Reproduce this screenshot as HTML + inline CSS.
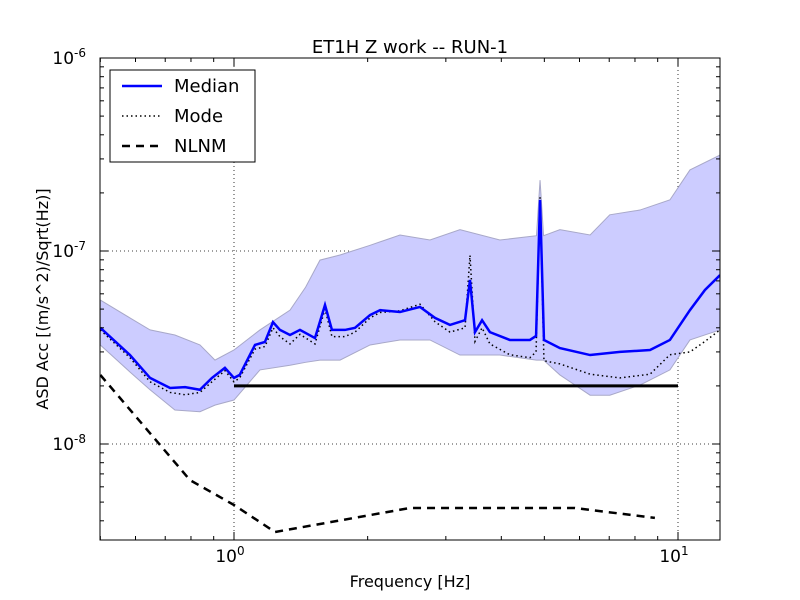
<!DOCTYPE html>
<html><head><meta charset="utf-8"><style>
body{margin:0;background:#fff;}
svg{display:block;font-family:"DejaVu Sans","Liberation Sans",sans-serif;}
</style></head><body>
<svg id="chart" width="800" height="600" viewBox="0 0 800 600">
<rect x="0" y="0" width="800" height="600" fill="#fff"/>
<text x="410" y="53" text-anchor="middle" font-size="18">ET1H Z work -- RUN-1</text>
<text x="410" y="587" text-anchor="middle" font-size="16">Frequency [Hz]</text>
<text transform="translate(48,299) rotate(-90)" text-anchor="middle" font-size="16">ASD Acc [(m/s^2)/Sqrt(Hz)]</text>
<g id="plot"></g>
<g id="axes"></g>
<g>
<rect x="110" y="70" width="145" height="92" fill="#fff" stroke="#000" stroke-width="1"/>
<line x1="122" y1="86" x2="162" y2="86" stroke="#0000ff" stroke-width="2.5"/>
<text x="174" y="92" font-size="18">Median</text>
<line x1="122" y1="116" x2="162" y2="116" stroke="#000" stroke-width="1.5" stroke-dasharray="1.5,3"/>
<text x="174" y="122" font-size="18">Mode</text>
<line x1="122" y1="146" x2="162" y2="146" stroke="#000" stroke-width="2.5" stroke-dasharray="8,6"/>
<text x="174" y="152" font-size="18">NLNM</text>
</g>
</svg>
<script>
const medFreq=[0.5,0.583,0.647,0.718,0.776,0.838,0.892,0.954,1.0,1.03,1.115,1.174,1.224,1.269,1.337,1.408,1.522,1.603,1.662,1.778,1.873,2.025,2.133,2.365,2.624,2.836,3.065,3.314,3.40,3.49,3.62,3.77,4.18,4.64,4.79,4.89,4.99,5.42,6.34,7.40,8.65,9.59,10.64,11.5,12.43];
const medVal=[4.0e-8,2.89e-8,2.20e-8,1.95e-8,1.97e-8,1.91e-8,2.20e-8,2.48e-8,2.20e-8,2.28e-8,3.26e-8,3.38e-8,4.28e-8,3.90e-8,3.67e-8,3.90e-8,3.54e-8,5.25e-8,3.90e-8,3.90e-8,4.0e-8,4.66e-8,4.94e-8,4.83e-8,5.13e-8,4.50e-8,4.14e-8,4.38e-8,7.08e-8,3.80e-8,4.38e-8,3.80e-8,3.46e-8,3.46e-8,3.63e-8,1.84e-7,3.46e-8,3.14e-8,2.89e-8,3.0e-8,3.07e-8,3.46e-8,4.94e-8,6.28e-8,7.5e-8];
const modeVal=[3.9e-8,2.8e-8,2.1e-8,1.85e-8,1.8e-8,1.85e-8,2.1e-8,2.4e-8,2.1e-8,2.2e-8,3.1e-8,3.2e-8,4.0e-8,3.6e-8,3.3e-8,3.7e-8,3.3e-8,5.0e-8,3.6e-8,3.6e-8,3.8e-8,4.5e-8,4.8e-8,4.9e-8,5.3e-8,4.3e-8,3.8e-8,4.0e-8,9.5e-8,3.4e-8,4.0e-8,3.3e-8,2.9e-8,2.8e-8,3.0e-8,1.9e-7,2.7e-8,2.6e-8,2.3e-8,2.2e-8,2.3e-8,2.9e-8,3.0e-8,3.4e-8,3.9e-8];
const bandFreq=[0.5,0.583,0.647,0.736,0.838,0.906,1.0,1.144,1.337,1.45,1.562,1.733,2.025,2.365,2.763,3.228,3.97,4.80,4.89,4.98,5.42,6.34,7.02,8.21,9.59,10.64,12.43];
const bandHigh=[5.57e-8,4.50e-8,3.90e-8,3.67e-8,3.26e-8,2.72e-8,3.07e-8,3.90e-8,4.94e-8,6.5e-8,8.97e-8,9.53e-8,1.07e-7,1.21e-7,1.14e-7,1.29e-7,1.14e-7,1.2e-7,2.33e-7,1.2e-7,1.29e-7,1.21e-7,1.54e-7,1.63e-7,1.84e-7,2.63e-7,3.14e-7];
const bandLow=[3.26e-8,2.36e-8,1.91e-8,1.50e-8,1.47e-8,1.59e-8,1.69e-8,2.42e-8,2.56e-8,2.65e-8,2.72e-8,2.72e-8,3.26e-8,3.46e-8,3.46e-8,2.89e-8,2.89e-8,2.72e-8,2.72e-8,2.72e-8,2.28e-8,1.79e-8,1.79e-8,2.02e-8,2.42e-8,3.46e-8,3.90e-8];
const nlnmFreq=[0.5,0.796,1.0,1.237,2.49,5.86,8.87];
const nlnmVal=[2.28e-8,6.5e-9,4.83e-9,3.50e-9,4.66e-9,4.66e-9,4.14e-9];
const refFreq=[1,10];
const refVal=[2e-8,2e-8];
const xTickExp=[0,1];
const yTickExp=[-8,-7,-6];

const L=100,R=720,T=58,B=540;
const X=f=>234+(Math.log10(f))*444;
const Y=v=>58+(-6-Math.log10(v))*193;
const NS='http://www.w3.org/2000/svg';
const plot=document.getElementById('plot'),axes=document.getElementById('axes');
function mk(tag,attrs,parent){const e=document.createElementNS(NS,tag);for(const k in attrs)e.setAttribute(k,attrs[k]);parent.appendChild(e);return e;}
const cp=mk('clipPath',{id:'clip'},plot);mk('rect',{x:L,y:T,width:R-L,height:B-T},cp);
const g=mk('g',{'clip-path':'url(#clip)'},plot);
xTickExp.forEach(e=>{const l=mk('line',{x1:X(Math.pow(10,e)),x2:X(Math.pow(10,e)),y1:T,y2:B,stroke:'#000','stroke-width':0.8,'stroke-dasharray':'1,3'},g);

});
yTickExp.forEach(e=>{const l=mk('line',{x1:L,x2:R,y1:Y(Math.pow(10,e)),y2:Y(Math.pow(10,e)),stroke:'#000','stroke-width':0.8,'stroke-dasharray':'1,3'},g);

});
let d='';bandFreq.forEach((f,i)=>{d+=(i?'L':'M')+X(f)+','+Y(bandHigh[i]);});
for(let i=bandFreq.length-1;i>=0;i--)d+='L'+X(bandFreq[i])+','+Y(bandLow[i]);d+='Z';
const band=mk('path',{d:d,fill:'#ccccff',stroke:'#a8a8c8','stroke-width':1},g);


function line(fs,vs,attrs,name){const p=mk('path',Object.assign({d:fs.map((f,i)=>(i?'L':'M')+X(f)+','+Y(vs[i])).join(''),fill:'none'},attrs),g);

}
line(refFreq,refVal,{stroke:'#000','stroke-width':3},'reference-line');
line(medFreq,modeVal,{stroke:'#000','stroke-width':1.5,'stroke-dasharray':'1.5,3'},'mode-line');
line(medFreq,medVal,{stroke:'#0000ff','stroke-width':2.5},'median-line');
line(nlnmFreq,nlnmVal,{stroke:'#000','stroke-width':2.5,'stroke-dasharray':'8,6'},'nlnm-line');
const fr=mk('rect',{x:L,y:T,width:R-L,height:B-T,fill:'none',stroke:'#000','stroke-width':1},axes);


for(let e=-1;e<=1;e++)for(let m=1;m<10;m++){const f=m*Math.pow(10,e),x=X(f);if(x<L||x>R)continue;const len=m==1?8:4;
mk('line',{x1:x,x2:x,y1:B,y2:B-len,stroke:'#000'},axes);mk('line',{x1:x,x2:x,y1:T,y2:T+len,stroke:'#000'},axes);}
for(let e=-9;e<=-6;e++)for(let m=1;m<10;m++){const v=m*Math.pow(10,e),y=Y(v);if(y<T-0.5||y>B)continue;const len=m==1?8:4;
mk('line',{x1:L,x2:L+len,y1:y,y2:y,stroke:'#000'},axes);mk('line',{x1:R,x2:R-len,y1:y,y2:y,stroke:'#000'},axes);}
xTickExp.forEach(e=>{const t=mk('text',{x:X(Math.pow(10,e))-4,y:562,'text-anchor':'middle','font-size':17},axes);t.textContent='10';


const s=mk('tspan',{dy:-7,'font-size':12},t);s.textContent=String(e);});
yTickExp.forEach(e=>{const t=mk('text',{x:86,y:Y(Math.pow(10,e))+6,'text-anchor':'end','font-size':17},axes);t.textContent='10';


const s=mk('tspan',{dy:-7,'font-size':12},t);s.textContent=String(e);});
</script>
</body></html>
